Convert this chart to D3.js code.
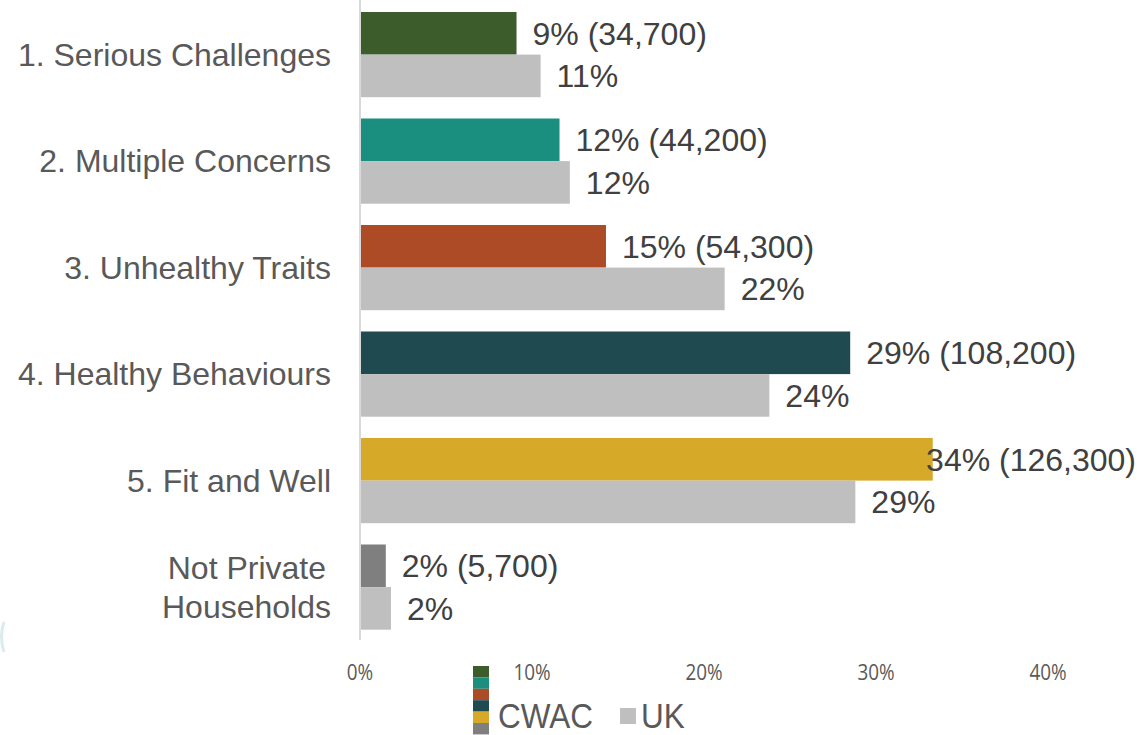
<!DOCTYPE html>
<html>
<head>
<meta charset="utf-8">
<script src="https://cdn.jsdelivr.net/npm/d3@7"></script>
<style>
    body { margin: 0; background: #fff; }
    svg { display: block; }
</style>
</head>
<body>
<svg id="chart" width="1140" height="735"></svg>
<script>
// categories and values
var categories = ["1. Serious Challenges", "2. Multiple Concerns", "3. Unhealthy Traits",
    "4. Healthy Behaviours", "5. Fit and Well", "Not Private Households"];
var series = ["CWAC", "UK"];
var cwacValues = [9.1, 11.6, 14.3, 28.5, 33.3, 1.5];
var ukValues = [10.5, 12.2, 21.2, 23.8, 28.8, 1.8];
var cwacLabels = ["9% (34,700)", "12% (44,200)", "15% (54,300)", "29% (108,200)", "34% (126,300)", "2% (5,700)"];
var ukLabels = ["11%", "12%", "22%", "24%", "29%", "2%"];
var cwacColors = ["#3d5c2c", "#1a8f80", "#ad4b26", "#1f4a50", "#d6a929", "#7f7f7f"];
var ukColor = "#bfbfbf";
var tickValues = [0, 10, 20, 30, 40];

var svg = d3.select("#chart");
var W = 1140;

var x = d3.scaleLinear().domain([0, 40]).range([360, 1048]);
var y = d3.scaleBand().domain(categories).range([1.35, 640.35])
    .paddingInner(0.2).paddingOuter(0.1);
var ySub = d3.scaleBand().domain(series).range([0, y.bandwidth()]);

// faint arc at left edge (cropped shape in the original)
svg.append("path")
    .attr("d", "M4,622 Q-1,636 4,652")
    .style("fill", "none")
    .style("stroke", "#dcebeb")
    .style("stroke-width", 3);

// axis line
svg.append("line")
    .attr("x1", x(0)).attr("x2", x(0))
    .attr("y1", 0).attr("y2", 640)
    .style("stroke", "#d9d9d9")
    .style("stroke-width", 2);

var rows = categories.map(function (c, i) {
    return {cat: c, i: i};
});

var g = svg.selectAll("g.row")
    .data(rows)
    .enter()
    .append("g")
    .attr("class", "row")
    .attr("transform", function (d) { return "translate(0," + y(d.cat) + ")"; });

// CWAC bars
g.append("rect")
    .attr("x", x(0) + 1)
    .attr("y", ySub("CWAC"))
    .attr("width", function (d) { return x(cwacValues[d.i]) - x(0) - 1; })
    .attr("height", ySub.bandwidth())
    .style("fill", function (d) { return cwacColors[d.i]; });

// UK bars
g.append("rect")
    .attr("x", x(0) + 1)
    .attr("y", ySub("UK"))
    .attr("width", function (d) { return x(ukValues[d.i]) - x(0) - 1; })
    .attr("height", ySub.bandwidth())
    .style("fill", ukColor);

// value labels
var labelFont = "32px 'Liberation Sans', Arial, sans-serif";
g.append("text")
    .text(function (d) { return cwacLabels[d.i]; })
    .attr("y", ySub("CWAC") + ySub.bandwidth() / 2)
    .attr("dy", "0.35em")
    .style("font", labelFont)
    .style("fill", "#404040")
    .attr("x", function (d) {
        var w = this.getComputedTextLength();
        return Math.min(x(cwacValues[d.i]) + 16, W - 4 - w);
    });

g.append("text")
    .text(function (d) { return ukLabels[d.i]; })
    .attr("y", ySub("UK") + ySub.bandwidth() / 2)
    .attr("dy", "0.35em")
    .style("font", labelFont)
    .style("fill", "#404040")
    .attr("x", function (d) { return x(ukValues[d.i]) + 16; });

// category labels
g.append("text")
    .attr("text-anchor", "end")
    .attr("x", 331)
    .attr("y", y.bandwidth() / 2)
    .style("font", labelFont)
    .style("fill", "#595959")
    .each(function (d) {
        var t = d3.select(this);
        if (d.cat === "Not Private Households") {
            t.append("tspan").attr("x", 326).attr("dy", "-0.25em").text("Not Private");
            t.append("tspan").attr("x", 331).attr("dy", "1.2em").text("Households");
        } else {
            t.attr("dy", "0.35em").text(d.cat);
        }
    });

// x tick labels
svg.selectAll("text.tick")
    .data(tickValues)
    .enter()
    .append("text")
    .attr("class", "tick")
    .attr("x", function (d) { return x(d); })
    .attr("y", 680)
    .attr("text-anchor", "middle")
    .attr("transform", function (d) { return "translate(" + (x(d) * 0.1) + ",0) scale(0.9,1)"; })
    .style("font", "21px 'Open Sans', sans-serif")
    .style("fill", "#595959")
    .text(function (d) { return d + "%"; });

// legend
var legend = svg.append("g").attr("transform", "translate(473,666)");
legend.selectAll("rect.sw")
    .data(cwacColors)
    .enter()
    .append("rect")
    .attr("x", 0)
    .attr("y", function (d, i) { return i * 11.4; })
    .attr("width", 16)
    .attr("height", 11.4)
    .style("fill", function (d) { return d; });

var legendFont = "35px 'Liberation Sans', Arial, sans-serif";
legend.append("text")
    .attr("x", 25).attr("y", 62)
    .attr("transform", "translate(2.5,0) scale(0.9,1)")
    .style("font", legendFont)
    .style("fill", "#595959")
    .text("CWAC");
legend.append("rect")
    .attr("x", 147).attr("y", 42)
    .attr("width", 16).attr("height", 16)
    .style("fill", ukColor);
legend.append("text")
    .attr("x", 168).attr("y", 62)
    .attr("transform", "translate(16.8,0) scale(0.9,1)")
    .style("font", legendFont)
    .style("fill", "#595959")
    .text("UK");
</script>
</body>
</html>
